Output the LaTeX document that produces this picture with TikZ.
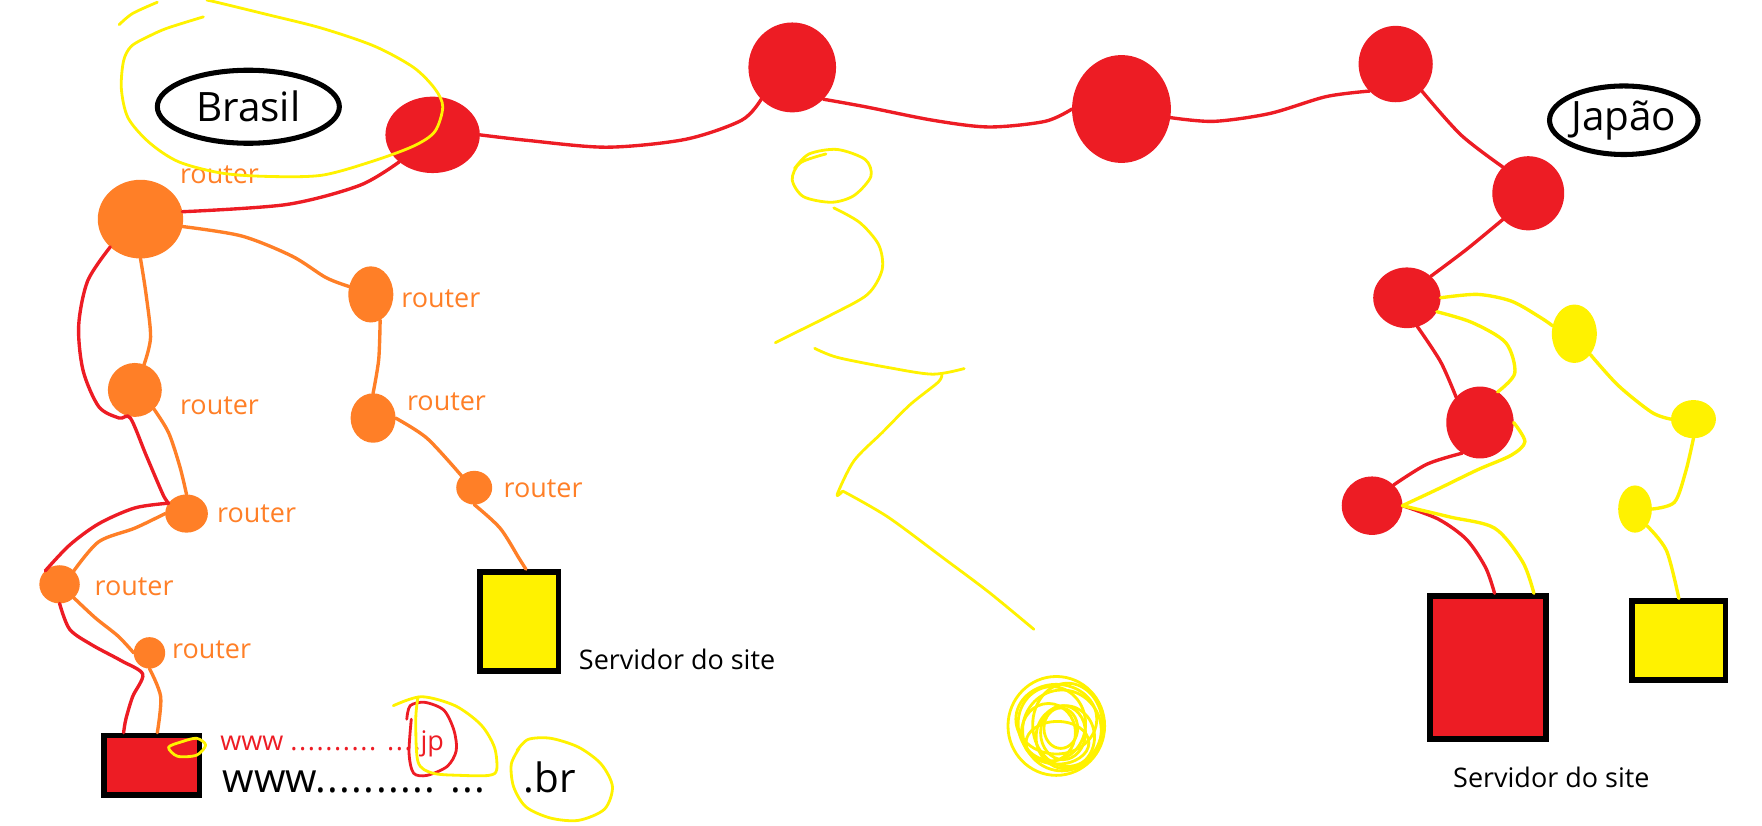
\documentclass[tikz,border=0pt]{standalone}
\usepackage{fontspec}
\setmainfont{Open Sans}
\usetikzlibrary{shapes.geometric}
\definecolor{pred}{HTML}{ED1C24}
\definecolor{porange}{HTML}{FF7F27}
\definecolor{pyellow}{HTML}{FFF200}
\newcommand\dotrun[2]{\foreach \k in {1,...,#1}{.\kern#2}}
\tikzset{
  rdot/.style={ellipse, fill=pred, inner sep=0pt, outer sep=0pt},
  odot/.style={ellipse, fill=porange, inner sep=0pt, outer sep=0pt},
  ydot/.style={ellipse, fill=pyellow, inner sep=0pt, outer sep=0pt},
  srv/.style={rectangle, draw=black, line width=5pt, inner sep=0pt},
  country/.style={ellipse, draw=black, line width=4.5pt, inner sep=0pt, font=\fontsize{36}{40}\selectfont},
  rlink/.style={draw=pred, line width=3pt, line cap=round},
  olink/.style={draw=porange, line width=3pt, line cap=round},
  ylink/.style={draw=pyellow, line width=3pt, line cap=round},
  scrib/.style={draw=pyellow, line width=2.5pt, line cap=round, line join=round},
  rtr/.style={text=porange, font=\fontsize{24}{28}\selectfont, anchor=base west, inner sep=0pt},
  lbl/.style={font=\fontsize{24}{28}\selectfont, anchor=base west, inner sep=0pt},
}
\begin{document}
\begin{tikzpicture}[x=1pt, y=-1pt]
  \useasboundingbox (0,0) rectangle (1568,735);
  % countries
  \node[country, minimum width=162, minimum height=65] (brasil) at (221,95) {Brasil};
  \node[country, minimum width=130, minimum height=61] (japao) at (1445,107) {Japão};
  % red backbone
  \node[rdot, minimum width=84, minimum height=68] (r1) at (385,120) {};
  \node[rdot, minimum width=78, minimum height=80] (r2) at (705,60) {};
  \node[rdot, minimum width=88, minimum height=96] (r3) at (998,97) {};
  \node[rdot, minimum width=66, minimum height=68] (r4) at (1242,57) {};
  \node[rdot, minimum width=64, minimum height=66] (r5) at (1360,172) {};
  \node[rdot, minimum width=60, minimum height=54] (r6) at (1252,265) {};
  \node[rdot, minimum width=60, minimum height=64] (r7) at (1317,376) {};
  \node[rdot, minimum width=54, minimum height=52] (r8) at (1221,450) {};
  % yellow routers
  \node[ydot, minimum width=40, minimum height=52] (y1) at (1401,297) {};
  \node[ydot, minimum width=40, minimum height=34] (y2) at (1507,373) {};
  \node[ydot, minimum width=30, minimum height=42] (y3) at (1455,453) {};
  % orange routers
  \node[odot, minimum width=76, minimum height=70] (o1) at (125,195) {};
  \node[odot, minimum width=40, minimum height=50] (o2) at (330,262) {};
  \node[odot, minimum width=48, minimum height=48] (o3) at (120,347) {};
  \node[odot, minimum width=40, minimum height=44] (o4) at (332,372) {};
  \node[odot, minimum width=38, minimum height=34] (o5) at (166,457) {};
  \node[odot, minimum width=32, minimum height=30] (o6) at (422,434) {};
  \node[odot, minimum width=36, minimum height=34] (o7) at (53,520) {};
  \node[odot, minimum width=28, minimum height=28] (o8) at (133,581) {};
  % servers
  \node[srv, fill=pred, minimum width=85, minimum height=53] (rbox1) at (135,681) {};
  \node[srv, fill=pyellow, minimum width=70, minimum height=88] (ybox1) at (462,553) {};
  \node[srv, fill=pred, minimum width=103, minimum height=127] (rbox2) at (1324,594) {};
  \node[srv, fill=pyellow, minimum width=83, minimum height=70] (ybox2) at (1494,570) {};
  % labels
  \node[rtr] (t1) at (160,163) {router};
  \node[rtr] (t2) at (357,274) {router};
  \node[rtr] (t3) at (160,369) {router};
  \node[rtr] (t4) at (362,365) {router};
  \node[rtr] (t5) at (193,465) {router};
  \node[rtr] (t6) at (448,443) {router};
  \node[rtr] (t7) at (84,530) {router};
  \node[rtr] (t8) at (153,586) {router};
  \node[lbl] (srv1) at (515,596) {Servidor do site};
  \node[lbl] (srv2) at (1293,701) {Servidor do site};
  \node[lbl, text=pred] (urljp) at (196,668) {www \dotrun{10}{1.4pt} \dotrun{3}{1.4pt}.jp};
  \node[lbl, font=\fontsize{36}{40}\selectfont] (urlbr) at (198,705) {www\dotrun{10}{1.2pt} \dotrun{3}{1.2pt}};
  \node[lbl, font=\fontsize{36}{40}\selectfont] (br) at (466,705) {.br};
  % red path
  \draw[rlink] plot[smooth] coordinates {(r1.east) (470,125) (540,131) (610,124) (660,107) (r2.south west)};
  \draw[rlink] plot[smooth] coordinates {(r2.south east) (770,95) (830,107) (880,113) (930,108) (r3.west)};
  \draw[rlink] plot[smooth] coordinates {(r3.-10) (1080,108) (1130,101) (1180,86) (r4.south west)};
  \draw[rlink] plot[smooth] coordinates {(r4.south east) (1300,120) (r5.north west)};
  \draw[rlink] plot[smooth] coordinates {(r5.south west) (1305,222) (r6.north east)};
  \draw[rlink] plot[smooth] coordinates {(r6.-70) (1282,322) (r7.north west)};
  \draw[rlink] plot[smooth] coordinates {(r7.-120) (1270,413) (r8.north east)};
  \draw[rlink] plot[smooth] coordinates {(r8.east) (1280,462) (1305,480) (1322,505) ([xshift=6pt]rbox2.north)};
  \draw[rlink] plot[smooth] coordinates {(r1.south west) (320,165) (255,182) (o1.10)};
  \draw[rlink] plot[smooth] coordinates {(o1.south west) (78,250) (70,290) (74,330) (88,362) (106,372) (116,372) (130,405) (145,440) (o5.150)};
  \draw[rlink] plot[smooth] coordinates {(o5.150) (120,452) (88,466) (62,485) (o7.north west)};
  \draw[rlink] plot[smooth] coordinates {(o7.south) (62,560) (82,574) (108,588) (127,600) (118,620) (112,640) ([xshift=-25pt]rbox1.north)};
  % orange path
  \draw[olink] plot[smooth] coordinates {(o1.south) (130,262) (134,300) (o3.70)};
  \draw[olink] plot[smooth] coordinates {(o1.-10) (215,210) (260,228) (290,247) (o2.160)};
  \draw[olink] plot[smooth] coordinates {(o2.-70) (337,320) (o4.north)};
  \draw[olink] plot[smooth] coordinates {(o4.east) (380,390) (o6.north west)};
  \draw[olink] plot[smooth] coordinates {(o6.south) (445,470) (462,497) ([xshift=6pt]ybox1.north)};
  \draw[olink] plot[smooth] coordinates {(o3.south east) (150,385) (160,415) (o5.north)};
  \draw[olink] plot[smooth] coordinates {(o5.west) (120,470) (88,482) (o7.north east)};
  \draw[olink] plot[smooth] coordinates {(o7.south east) (85,550) (105,566) (o8.west)};
  \draw[olink] plot[smooth] coordinates {(o8.south) (143,620) ([xshift=5pt]rbox1.north)};
  % yellow path
  \draw[ylink] plot[smooth] coordinates {(r6.east) (1315,262) (1345,268) (1370,282) (y1.160)};
  \draw[ylink] plot[smooth] coordinates {(y1.south east) (1440,343) (1470,367) (y2.west)};
  \draw[ylink] plot[smooth] coordinates {(y2.south) (1500,420) (1490,447) (y3.east)};
  \draw[ylink] plot[smooth] coordinates {(y3.south east) (1483,490) (ybox2.north)};
  \draw[ylink] plot[smooth] coordinates {(r6.-25) (1310,287) (1340,305) (1348,332) (r7.60)};
  \draw[ylink] plot[smooth] coordinates {(r7.east) (1357,393) (1345,405) (1315,418) (1280,435) (r8.east)};
  \draw[ylink] plot[smooth] coordinates {(r8.east) (1290,460) (1330,470) (1355,500) ([xshift=41pt]rbox2.north)};
  % scribbles
  \draw[scrib] plot[smooth] coordinates {(106,22) (118,12) (140,2)};
  \draw[scrib] plot[smooth] coordinates {(181,15) (149,25) (133,32) (117,41) (110,54) (108,79) (114,105) (133,127) (159,144) (197,154) (238,157) (286,156) (330,144) (368,130) (387,117) (394,95) (387,79) (368,60) (333,41) (286,25) (238,13) (197,3) (184,0)};
  \draw[scrib] plot[smooth] coordinates {(735,137) (712,145) (705,160) (715,175) (740,180) (760,174) (775,157) (770,142) (745,133) (720,137) (707,150)};
  \draw[scrib] plot[smooth] coordinates {(742,185) (765,198) (782,218) (785,240) (772,262) (740,280) (710,295) (690,305)};
  \draw[scrib] plot[smooth] coordinates {(725,310) (745,318) (790,327) (830,333) (858,328)};
  \draw[scrib] plot[smooth] coordinates {(838,333) (835,340) (810,360) (785,385) (760,410) (745,440) (750,437)};
  \draw[scrib] plot[smooth] coordinates {(750,437) (790,460) (840,497) (880,527) (920,560)};
  \foreach \cx/\cy/\rx/\ry in {940/646/43/44, 945/650/35/36, 936/644/30/33, 948/656/26/28, 940/640/36/31, 933/652/24/26, 950/645/31/37, 941/661/28/19, 944/648/15/18, 946/652/20/24}
    \draw[scrib] (\cx,\cy) ellipse [x radius=\rx, y radius=\ry];
  \draw[scrib] plot[smooth cycle] coordinates {(150,665) (158,673) (175,672) (183,663) (175,657) (162,660)};
  \draw[rlink, line width=2.5pt] plot[smooth] coordinates {(362,640) (365,628) (378,625) (395,632) (404,650) (406,668) (398,682) (380,690) (368,688) (364,670) (366,640)};
  \draw[scrib] plot[smooth] coordinates {(350,628) (375,620) (405,628) (428,645) (440,665) (442,685) (435,690) (410,690) (385,688) (372,678) (370,640) (372,620)};
  \draw[scrib] plot[smooth] coordinates {(460,668) (470,658) (490,657) (515,665) (535,680) (545,700) (538,720) (515,730) (490,728) (468,718) (457,700) (455,680) (462,666)};
\end{tikzpicture}
\end{document}
